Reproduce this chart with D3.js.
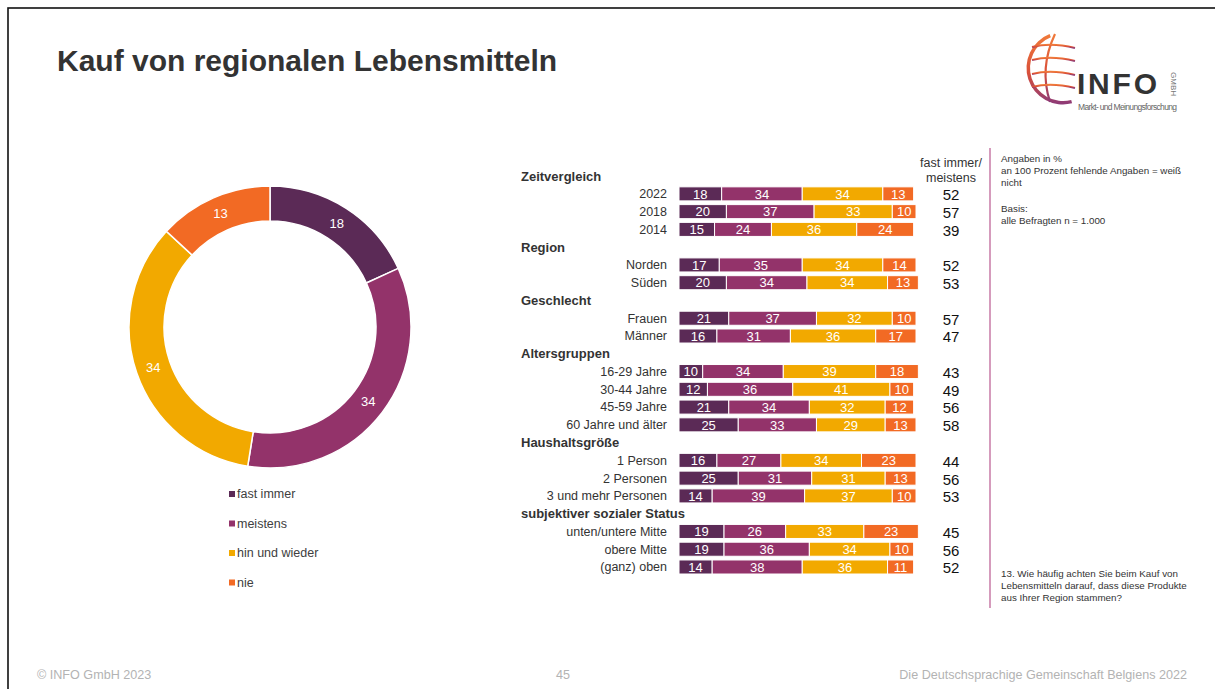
<!DOCTYPE html>
<html>
<head>
<meta charset="utf-8">
<style>
    body { margin: 0; background: #fff; font-family: "Liberation Sans", Arial, sans-serif; }
    svg { display: block; }
    .title { font-size: 30px; font-weight: bold; fill: #333; }
    .row-label { font-size: 12.5px; fill: #333; }
    .group-label { font-size: 13px; font-weight: bold; fill: #333; }
    .seg-label { font-size: 13px; fill: #fff; }
    .top-two { font-size: 15px; fill: #111; }
    .note { font-size: 9.8px; fill: #333; }
    .footer { font-size: 12.6px; fill: #b3b3b3; }
    .legend-text { font-size: 12.5px; fill: #404040; }
</style>
</head>
<body>
<svg width="1215" height="689"></svg>
<script src="https://d3js.org/d3.v7.min.js"></script>
<script>
    // categories and colours
    const categories = ["fast immer", "meistens", "hin und wieder", "nie"];
    const catColors = ["#5b2a56", "#93336a", "#f2a900", "#f26a24"];

    // donut (total 2022)
    const totalValues = [18, 34, 34, 13];

    // bar rows
    const groups = ["Zeitvergleich", "Region", "Geschlecht", "Altersgruppen", "Haushaltsgröße", "subjektiver sozialer Status"];
    const rowLabels = ["2022", "2018", "2014", "Norden", "Süden", "Frauen", "Männer",
        "16-29 Jahre", "30-44 Jahre", "45-59 Jahre", "60 Jahre und älter",
        "1 Person", "2 Personen", "3 und mehr Personen",
        "unten/untere Mitte", "obere Mitte", "(ganz) oben"];
    const rowGroup = [0, 0, 0, 1, 1, 2, 2, 3, 3, 3, 3, 4, 4, 4, 5, 5, 5];
    const fastImmer = [18, 20, 15, 17, 20, 21, 16, 10, 12, 21, 25, 16, 25, 14, 19, 19, 14];
    const meistens = [34, 37, 24, 35, 34, 37, 31, 34, 36, 34, 33, 27, 31, 39, 26, 36, 38];
    const hinUndWieder = [34, 33, 36, 34, 34, 32, 36, 39, 41, 32, 29, 34, 31, 37, 33, 34, 36];
    const nie = [13, 10, 24, 14, 13, 10, 17, 18, 10, 12, 13, 23, 13, 10, 23, 10, 11];
    const topTwo = [52, 57, 39, 52, 53, 57, 47, 43, 49, 56, 58, 44, 56, 53, 45, 56, 52];

    const svg = d3.select("svg");

    // slide frame
    svg.append("rect")
        .attr("x", 8).attr("y", 8)
        .attr("width", 1240).attr("height", 700)
        .attr("fill", "none")
        .attr("stroke", "#111")
        .attr("stroke-width", 1.6);

    svg.append("text")
        .attr("class", "title")
        .attr("x", 57).attr("y", 71)
        .text("Kauf von regionalen Lebensmitteln");

    // logo
    let logo = svg.append("g").attr("transform", "translate(1063,68)");
    let grad = svg.append("defs").append("linearGradient")
        .attr("id", "logoGrad").attr("x1", 0).attr("y1", 0).attr("x2", 0).attr("y2", 1);
    grad.append("stop").attr("offset", "0%").attr("stop-color", "#f07a3a");
    grad.append("stop").attr("offset", "55%").attr("stop-color", "#d9503a");
    grad.append("stop").attr("offset", "100%").attr("stop-color", "#8c3a78");
    let globeArc = d3.arc().innerRadius(33).outerRadius(36.5).startAngle(-0.12 * Math.PI).endAngle(-1.08 * Math.PI);
    logo.append("path").attr("d", globeArc()).attr("fill", "url(#logoGrad)");
    logo.append("path")
        .attr("d", "M-8,-34 Q-24,0 -13,34")
        .attr("fill", "none").attr("stroke", "url(#logoGrad)").attr("stroke-width", 2.2);
    [-21, -8, 6, 19].forEach(function(dy) {
        logo.append("path")
            .attr("d", `M-31,${dy} Q-12,${dy - 5} 12,${dy + 1}`)
            .attr("fill", "none").attr("stroke", "url(#logoGrad)").attr("stroke-width", 2);
    });
    svg.append("text")
        .attr("x", 1077).attr("y", 94)
        .attr("font-size", 30).attr("font-weight", "bold").attr("fill", "#333")
        .attr("textLength", 80)
        .text("INFO");
    svg.append("text")
        .attr("transform", "translate(1171,72) rotate(90)")
        .attr("font-size", 8).attr("fill", "#777")
        .attr("textLength", 24)
        .text("GMBH");
    svg.append("text")
        .attr("x", 1078).attr("y", 110)
        .attr("font-size", 8.5).attr("fill", "#666")
        .attr("textLength", 99)
        .text("Markt- und Meinungsforschung");

    // donut
    let pie = d3.pie().sort(null).value(d => d);
    let arc = d3.arc().innerRadius(106).outerRadius(141);
    let donut = svg.append("g").attr("transform", "translate(270,327)");
    let arcs = pie(totalValues);
    donut.selectAll("path")
        .data(arcs)
        .join("path")
        .attr("d", arc)
        .attr("fill", (d, i) => catColors[i])
        .attr("stroke", "#fff")
        .attr("stroke-width", 1.5);
    donut.selectAll("text")
        .data(arcs)
        .join("text")
        .attr("class", "seg-label")
        .attr("font-size", 15.5)
        .attr("text-anchor", "middle")
        .attr("dy", "0.35em")
        .attr("transform", d => `translate(${arc.centroid(d)})`)
        .text(d => d.data);

    // donut legend
    let legend = svg.append("g");
    categories.forEach(function(c, i) {
        let yy = 494 + i * 29.5;
        legend.append("rect")
            .attr("x", 229).attr("y", yy - 3)
            .attr("width", 6).attr("height", 6)
            .attr("fill", catColors[i]);
        legend.append("text")
            .attr("class", "legend-text")
            .attr("x", 237).attr("y", yy)
            .attr("dy", "0.35em")
            .text(c);
    });

    // slot layout: group headers plus rows
    let slots = [];
    rowLabels.forEach(function(lab, i) {
        if (i === 0 || rowGroup[i] !== rowGroup[i - 1]) {
            slots.push({ key: "g" + rowGroup[i], header: true, label: groups[rowGroup[i]] });
        }
        slots.push({ key: "r" + i, header: false, label: lab, idx: i });
    });

    let y = d3.scaleBand()
        .domain(slots.map(d => d.key))
        .range([167.3, 167.3 + slots.length * 17.76])
        .paddingInner(0.21)
        .paddingOuter(0.1);

    let x = d3.scaleLinear().domain([0, 100]).range([679, 916]);

    let series = [fastImmer, meistens, hinUndWieder, nie];

    let bars = svg.append("g");
    slots.forEach(function(s) {
        let cy = y(s.key) + y.bandwidth() / 2;
        if (s.header) {
            bars.append("text")
                .attr("class", "group-label")
                .attr("x", 521).attr("y", cy)
                .attr("dy", "0.35em")
                .text(s.label);
            return;
        }
        bars.append("text")
            .attr("class", "row-label")
            .attr("x", 667).attr("y", cy)
            .attr("dy", "0.35em")
            .attr("text-anchor", "end")
            .text(s.label);
        let acc = 0;
        series.forEach(function(vals, k) {
            let v = vals[s.idx];
            bars.append("rect")
                .attr("x", x(acc))
                .attr("y", y(s.key))
                .attr("width", x(acc + v) - x(acc))
                .attr("height", y.bandwidth())
                .attr("fill", catColors[k])
                .attr("stroke", "#fff")
                .attr("stroke-width", 1);
            bars.append("text")
                .attr("class", "seg-label")
                .attr("x", (x(acc) + x(acc + v)) / 2)
                .attr("y", cy)
                .attr("dy", "0.36em")
                .attr("text-anchor", "middle")
                .text(v);
            acc += v;
        });
        bars.append("text")
            .attr("class", "top-two")
            .attr("x", 951).attr("y", cy + 1)
            .attr("dy", "0.36em")
            .attr("text-anchor", "middle")
            .text(topTwo[s.idx]);
    });

    svg.append("text").attr("class", "row-label").attr("x", 951).attr("y", 167)
        .attr("text-anchor", "middle").text("fast immer/");
    svg.append("text").attr("class", "row-label").attr("x", 951).attr("y", 182)
        .attr("text-anchor", "middle").text("meistens");

    // notes column
    svg.append("line")
        .attr("x1", 990).attr("x2", 990)
        .attr("y1", 148).attr("y2", 608)
        .attr("stroke", "#c77aa6").attr("stroke-width", 1.5);

    let addNote = function(lines, y0) {
        lines.forEach(function(t, i) {
            svg.append("text").attr("class", "note")
                .attr("x", 1001).attr("y", y0 + i * 12).text(t);
        });
    };
    addNote(["Angaben in %", "an 100 Prozent fehlende Angaben = weiß", "nicht"], 162);
    addNote(["Basis:", "alle Befragten  n = 1.000"], 212);
    addNote(["13. Wie häufig achten Sie beim Kauf von", "Lebensmitteln darauf, dass diese Produkte", "aus Ihrer Region stammen?"], 577);

    // footer
    svg.append("text").attr("class", "footer").attr("x", 37).attr("y", 679).text("© INFO GmbH 2023");
    svg.append("text").attr("class", "footer").attr("x", 563).attr("y", 679).attr("text-anchor", "middle").text("45");
    svg.append("text").attr("class", "footer").attr("x", 1187).attr("y", 679).attr("text-anchor", "end")
        .text("Die Deutschsprachige Gemeinschaft Belgiens 2022");
</script>
</body>
</html>
